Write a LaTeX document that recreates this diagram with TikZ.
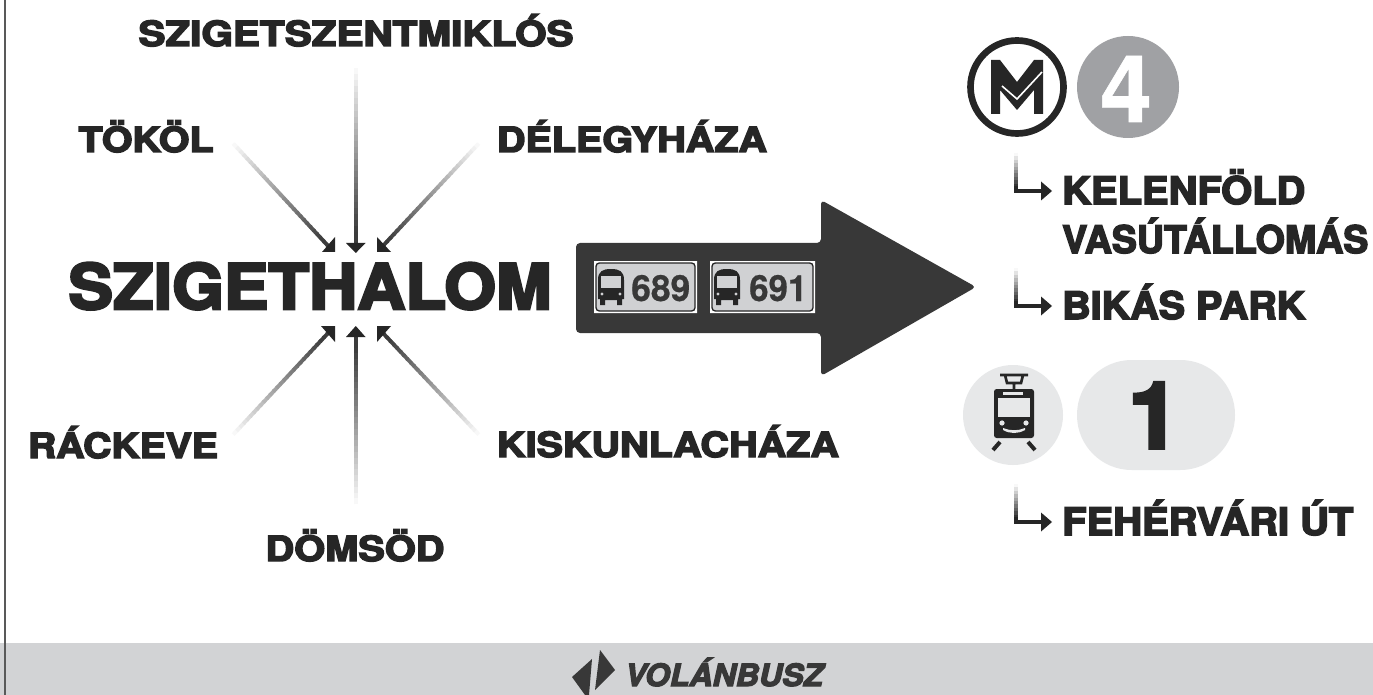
\documentclass[tikz,border=0pt]{standalone}
\usepackage{fontspec}
\usetikzlibrary{calc}
\setmainfont{TeX Gyre Heros}
\newfontfamily\heavy{TeX Gyre Heros Bold}[FakeBold=4]
\newfontfamily\heavyB{TeX Gyre Heros Bold}[FakeBold=0.6]
\newfontfamily\volan{TeX Gyre Heros Bold Italic}[FakeBold=4]
\definecolor{ink}{HTML}{262626}
\definecolor{arrowd}{HTML}{383838}
\definecolor{band}{HTML}{D2D3D5}
\definecolor{plate}{HTML}{D0D1D3}
\definecolor{four}{HTML}{A0A1A4}
\definecolor{lite}{HTML}{E7E8E9}
\newcommand{\fitw}[2]{\setbox0=\hbox{#2}\pgfmathsetmacro\fs{#1*0.75pt/\the\wd0}\scalebox{\fs}[1]{\box0}}
\tikzset{
  x=0.75pt,y=-0.75pt,
  city/.style={font=\heavy\fontsize{26}{26}\selectfont,text=ink,inner sep=0,anchor=base},
  stopname/.style={font=\heavy\fontsize{28.5}{28.5}\selectfont,text=ink,inner sep=0,anchor=base west},
  busnum/.style={font=\heavyB\fontsize{27}{27}\selectfont,text=arrowd,inner sep=0,anchor=base west},
  bplate/.style={draw=ink,line width=1pt,fill=plate,rounded corners=2.5pt},
}
\newcommand{\fadeline}[2]{%
  \foreach \i in {0,...,29}{%
    \pgfmathsetmacro\ta{\i/30}\pgfmathsetmacro\tb{(\i+1.3)/30}%
    \pgfmathsetmacro\pc{min(90,\i*3.3)}%
    \draw[line width=2.9pt,color=ink!\pc!white,line cap=butt] ($(#1)!\ta!(#2)$) -- ($(#1)!\tb!(#2)$);
  }}
\newcommand{\busicon}[1]{%
  \begin{scope}[shift={(#1)}]
    \fill[ink] (-13,-7) .. controls (-13,-16) and (-8,-18) .. (0,-18) .. controls (8,-18) and (13,-16) .. (13,-7)
      -- (13,12) -- (11,12) -- (11,18) -- (6,18) -- (6,13) -- (-6,13) -- (-6,18) -- (-11,18) -- (-11,12) -- (-13,12) -- cycle;
    \fill[plate] (-10,-11) rectangle (10,1);
    \fill[plate] (-9,7) circle (1.6) (9,7) circle (1.6);
  \end{scope}}
\newcommand{\turnarrow}[1]{%
  \begin{scope}[shift={(#1)}]
    \foreach \i in {0,...,9}{%
      \pgfmathsetmacro\pc{min(95,3+\i*10)}%
      \draw[line width=2.5pt,color=ink!\pc!white] (0,{\i*3.4}) -- (0,{(\i+1.2)*3.4});
    }
    \draw[line width=2.5pt,ink] (0,33) -- (0,38) -- (27,38);
    \fill[ink] (36,38) -- (25,28.5) -- (25,47.5) -- cycle;
  \end{scope}}
\begin{document}
\begin{tikzpicture}
\useasboundingbox (0,0) rectangle (1373,695);
\fill[white] (0,0) rectangle (1373,695);
% band
\fill[band] (0,643) rectangle (1373,695);
\draw[line width=1.5pt,color=black!65] (5,0) -- (5,695);
\node[font=\volan\fontsize{23}{23}\selectfont,text=arrowd,inner sep=0,anchor=base] (vb) at (724,686) {\fitw{198}{VOLÁNBUSZ}};
\fill[arrowd] (572,677) -- (592,659) -- (589,695) -- (585,695) -- cycle;
\fill[arrowd] (600,650) -- (615,670) -- (595,690) -- cycle;
% cities
\node[city] (szn) at (356,46) {\fitw{435}{SZIGETSZENTMIKLÓS}};
\node[city] (tok) at (146,152) {\fitw{135}{TÖKÖL}};
\node[city] (del) at (632,152) {\fitw{270}{DÉLEGYHÁZA}};
\node[city,font=\heavy\fontsize{47}{47}\selectfont] (szh) at (310,309) {\fitw{483}{SZIGETHALOM}};
\node[city] (rac) at (123,458) {\fitw{190}{RÁCKEVE}};
\node[city] (dom) at (355,561) {\fitw{179}{DÖMSÖD}};
\node[city] (kis) at (668,457) {\fitw{342}{KISKUNLACHÁZA}};
% connectors
\coordinate (a1) at (356,62); \coordinate (b1) at (356,244);
\coordinate (a2) at (230,140); \coordinate (b2) at (330,248);
\coordinate (a3) at (482,140); \coordinate (b3) at (381,248);
\coordinate (a4) at (230,438); \coordinate (b4) at (330,331);
\coordinate (a5) at (356,510); \coordinate (b5) at (356,336);
\coordinate (a6) at (482,438); \coordinate (b6) at (381,331);
\fadeline{a1}{b1}\fadeline{a2}{b2}\fadeline{a3}{b3}\fadeline{a4}{b4}\fadeline{a5}{b5}\fadeline{a6}{b6}
\fill[ink] (346,243) -- (365.5,243) -- (355.8,253) -- cycle;
\fill[ink] (346,337) -- (365.5,337) -- (355.8,326) -- cycle;
\fill[ink] (322,252) -- (335,252) -- (335,237) -- cycle;
\fill[ink] (377,237) -- (377,252) -- (391,252) -- cycle;
\fill[ink] (321,326) -- (335,326) -- (335,342) -- cycle;
\fill[ink] (377,326) -- (391,326) -- (377,342) -- cycle;
% big arrow
\fill[arrowd,rounded corners=3pt] (576,243) -- (821,243) -- (821,200) -- (976,287) -- (821,376) -- (821,333) -- (576,333) -- cycle;
% bus plates
\fill[white] (594,261) rectangle (697,313) (710,261) rectangle (815,313);
\draw[bplate] (596,263) rectangle (695,311);
\draw[bplate] (712,263) rectangle (813,311);
\busicon{611,287}\busicon{727,287}
\node[busnum] (n1) at (631,301) {\fitw{59}{689}};
\node[busnum] (n2) at (749,301) {\fitw{58}{691}};
% metro
\draw[line width=5pt,ink] (1017,87) circle (46.5);
\fill[ink] (991,60) -- (1000,60) -- (1017,82) -- (1034,60) -- (1043,60) -- (1043,114) -- (1034,114) -- (1034,90) -- (1017,110) -- (1000,90) -- (1000,114) -- (991,114) -- cycle;
\draw[white,line width=1.2pt] (1002,86) -- (1017,99) -- (1042,72);
\fill[four] (1128,87) circle (51);
\node[font=\heavyB\fontsize{70}{70}\selectfont,text=white,inner sep=0,anchor=base] (l4) at (1126,122) {4};
% tram
\fill[lite] (1013,415) circle (50);
\fill[lite,rounded corners=41pt] (1077,360) rectangle (1235,470);
\node[font=\heavy\fontsize{69}{69}\selectfont,text=ink,inner sep=0,anchor=base] (l1) at (1154,448) {1};
\begin{scope}[shift={(1014,416)}]
\fill[ink,rounded corners=2pt] (-20,-27) rectangle (20,22);
\fill[lite] (-16,-18) rectangle (16,1);
\fill[lite] (-11,-24) rectangle (9,-21);
\fill[lite] (-12,7) circle (2.6) (12,7) circle (2.6);
\fill[lite] (-11,12) .. controls (-4,15) and (4,15) .. (11,12) -- (11,14) .. controls (4,18) and (-4,18) .. (-11,14) -- cycle;
\draw[ink,line width=2pt] (-14,-41) -- (14,-41) (-9,-41) -- (-7,-33) -- (7,-33) -- (9,-41) (0,-33) -- (0,-27);
\draw[ink,line width=3pt] (-21,34) -- (-14,26) (21,34) -- (14,26);
\end{scope}
% sub-arrows
\turnarrow{1016,153}
\turnarrow{1016,268}
\turnarrow{1016,484}
% stops
\node[stopname] (s1) at (1062,204) {\fitw{243}{KELENFÖLD}};
\node[stopname] (s2) at (1062,253) {\fitw{306}{VASÚTÁLLOMÁS}};
\node[stopname] (s3) at (1062,319) {\fitw{243}{BIKÁS PARK}};
\node[stopname] (s4) at (1062,535) {\fitw{291}{FEHÉRVÁRI ÚT}};
\end{tikzpicture}
\end{document}
